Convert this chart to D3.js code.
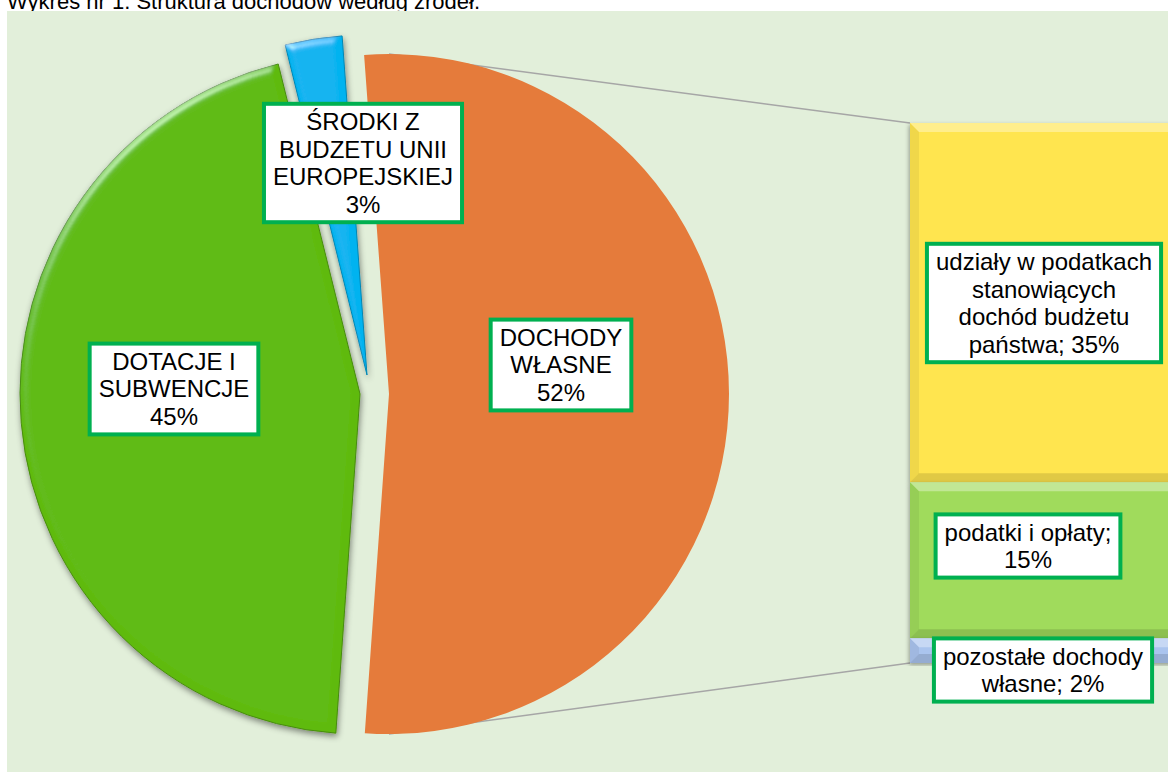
<!DOCTYPE html>
<html><head><meta charset="utf-8">
<script src="https://cdn.jsdelivr.net/npm/d3@7"></script>
<style>html,body{margin:0;padding:0;background:#fff;overflow:hidden}svg{display:block}</style>
</head><body><svg id="c" width="1168" height="772"></svg>
<script>
// ---- data ----
const title = "Wykres nr 1. Struktura dochodów według źródeł.";
const pieCategories = ["DOCHODY WŁASNE", "DOTACJE I SUBWENCJE", "ŚRODKI Z BUDZETU UNII EUROPEJSKIEJ"];
const pieValues = [52.3, 45.0, 2.7];
const pieLabelLines = [["DOCHODY", "WŁASNE", "{p}"], ["DOTACJE I", "SUBWENCJE", "{p}"], ["ŚRODKI Z", "BUDZETU UNII", "EUROPEJSKIEJ", "{p}"]];
const barCategories = ["udziały w podatkach stanowiących dochód budżetu państwa", "podatki i opłaty", "pozostałe dochody własne"];
const barValues = [34.8, 15.1, 2.4];
const barLabelLines = [["udziały w podatkach", "stanowiących", "dochód budżetu", "państwa; {p}"], ["podatki i opłaty;", "{p}"], ["pozostałe dochody", "własne; {p}"]];

// ---- layout / style ----
const W = 1168, H = 772;
const FONT = "'Liberation Sans', Arial, sans-serif";
const pieColors = ["#E57B3B", "#5FBA0D", "#05B3F0"];
const barColors = ["#FFE550", "#A0DB5C", "#AAC4EE"];
const R = 340, cx = 389, cy = 394;
const sliceOffsets = [[0, 0], [-29, 0], [-22, -19]];
const startDeg = -4.2;
const barX0 = 910, barX1 = 1210, barTop = 123, barBottom = 663;
const pieLabelPos = [[561, 365], [174, 389], [363, 163]];
const barLabelPos = [[1044, 303], [1028, 546], [1043, 670]];

const svg = d3.select("#c");
const defs = svg.append("defs");

// bevel + shadow filter
function bevelFilter(id, shadowOp) {
  const f = defs.append("filter").attr("id", id).attr("x", "-10%").attr("y", "-10%").attr("width", "120%").attr("height", "120%");
  f.append("feGaussianBlur").attr("in", "SourceAlpha").attr("stdDeviation", 4).attr("result", "blur");
  const sp = f.append("feSpecularLighting").attr("in", "blur").attr("surfaceScale", 5)
    .attr("specularConstant", 0.9).attr("specularExponent", 25).attr("lighting-color", "#ffffff").attr("result", "spec");
  sp.append("feDistantLight").attr("azimuth", 235).attr("elevation", 25);
  f.append("feComposite").attr("in", "spec").attr("in2", "SourceAlpha").attr("operator", "in").attr("result", "specIn");
  f.append("feComposite").attr("in", "SourceGraphic").attr("in2", "specIn").attr("operator", "arithmetic")
    .attr("k1", 0).attr("k2", 1).attr("k3", 0.4).attr("k4", 0).attr("result", "lit");
  f.append("feGaussianBlur").attr("in", "SourceAlpha").attr("stdDeviation", 3).attr("result", "sb");
  f.append("feOffset").attr("in", "sb").attr("dx", 1).attr("dy", 3).attr("result", "so");
  f.append("feFlood").attr("flood-color", "#000").attr("flood-opacity", shadowOp).attr("result", "fl");
  f.append("feComposite").attr("in", "fl").attr("in2", "so").attr("operator", "in").attr("result", "shadow");
  const m = f.append("feMerge");
  m.append("feMergeNode").attr("in", "shadow");
  m.append("feMergeNode").attr("in", "lit");
}
bevelFilter("bevel", 0.45);

function shadowFilter(id, op) {
  const f = defs.append("filter").attr("id", id).attr("x", "-10%").attr("y", "-10%").attr("width", "120%").attr("height", "120%");
  f.append("feDropShadow").attr("dx", -1).attr("dy", 2).attr("stdDeviation", 2).attr("flood-color", "#000").attr("flood-opacity", op);
}
shadowFilter("barShadow", 0.35);

// title
svg.append("text").attr("x", 7).attr("y", 9).attr("font-family", FONT).attr("font-size", 22)
  .attr("fill", "#000").text(title);

// plot background
svg.append("rect").attr("x", 7).attr("y", 11).attr("width", W - 7).attr("height", H - 11).attr("fill", "#E2EFDA");

// bar scale
const barSum = d3.sum(barValues);
const y = d3.scaleLinear().domain([0, barSum]).range([barBottom, barTop]);

// connector (series) lines
const conn = svg.append("g").attr("stroke", "#A6A6A6").attr("stroke-width", 1.5).attr("fill", "none");
conn.append("line").attr("x1", cx).attr("y1", cy - R).attr("x2", barX0).attr("y2", y(barSum));
conn.append("line").attr("x1", cx).attr("y1", cy + R).attr("x2", barX0).attr("y2", y(0));

// pie
const pie = d3.pie().sort(null).value(d => d)
  .startAngle(startDeg * Math.PI / 180).endAngle(startDeg * Math.PI / 180 + 2 * Math.PI);
const arcs = pie(pieValues);
const arc = d3.arc().innerRadius(0).outerRadius(R);
const pg = svg.append("g");
arcs.forEach((a, i) => {
  pg.append("path")
    .attr("transform", `translate(${cx + sliceOffsets[i][0]},${cy + sliceOffsets[i][1]})`)
    .attr("d", arc(a))
    .attr("fill", pieColors[i])
    .attr("stroke", i === 0 ? "none" : d3.color(pieColors[i]).darker(0.8))
    .attr("stroke-width", 1)
    .attr("filter", i === 0 ? null : "url(#bevel)");
});

// bar of pie
let cum = 0;
const stack = barValues.map(v => v).reverse().map((v, j) => { const s = { lo: cum, hi: cum + v }; cum += v; return s; }).reverse();
const bg = svg.append("g");
stack.forEach((s, i) => {
  const y0 = y(s.hi), y1 = y(s.lo), x0 = barX0, x1 = barX1;
  const g = bg.append("g");
  g.append("rect").attr("x", x0).attr("y", y0).attr("width", x1 - x0).attr("height", y1 - y0)
    .attr("fill", barColors[i]).attr("filter", "url(#barShadow)");
  const b = Math.min(9, (y1 - y0) / 2);
  // top band (light)
  g.append("path").attr("d", `M${x0},${y0}L${x1},${y0}L${x1 - b},${y0 + b}L${x0 + b},${y0 + b}Z`)
    .attr("fill", "#fff").attr("opacity", 0.35);
  // left band
  g.append("path").attr("d", `M${x0},${y0}L${x0 + b},${y0 + b}L${x0 + b},${y1 - b}L${x0},${y1}Z`)
    .attr("fill", "#000").attr("opacity", 0.06);
  // bottom band (dark)
  g.append("path").attr("d", `M${x0},${y1}L${x0 + b},${y1 - b}L${x1 - b},${y1 - b}L${x1},${y1}Z`)
    .attr("fill", "#000").attr("opacity", 0.12);
});

// labels
function pct(v) { return Math.round(v) + "%"; }
function drawLabel(lines, pos) {
  const fs = 24, lh = 27.6;
  const g = svg.append("g").attr("transform", `translate(${pos[0]},${pos[1]})`);
  const rect = g.append("rect");
  const t = g.append("text").attr("font-family", FONT).attr("font-size", fs).attr("fill", "#000")
    .attr("text-anchor", "middle");
  const n = lines.length;
  let maxW = 0;
  lines.forEach((ln, k) => {
    const ts = t.append("tspan").attr("x", 0).attr("y", (k - (n - 1) / 2) * lh + fs * 0.35).text(ln);
    maxW = Math.max(maxW, ts.node().getComputedTextLength());
  });
  const w = maxW + 22, h = n * lh + 12;
  rect.attr("x", -w / 2 + 2).attr("y", -h / 2 + 2).attr("width", w - 4).attr("height", h - 4)
    .attr("fill", "#fff").attr("stroke", "#00B050").attr("stroke-width", 4);
}
pieLabelLines.forEach((lines, i) => drawLabel(lines.map(l => l.replace("{p}", pct(pieValues[i]))), pieLabelPos[i]));
barLabelLines.forEach((lines, i) => drawLabel(lines.map(l => l.replace("{p}", pct(barValues[i]))), barLabelPos[i]));
</script></body></html>
